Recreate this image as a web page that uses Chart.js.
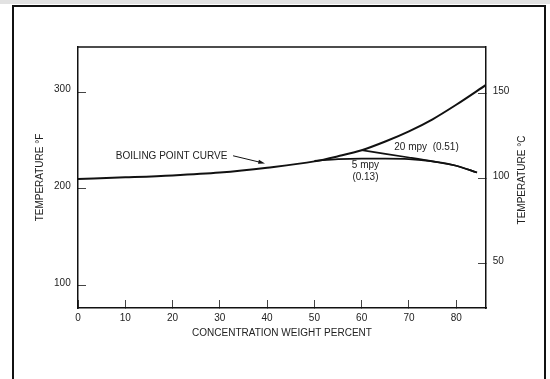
<!DOCTYPE html>
<html>
<head>
<meta charset="utf-8">
<script src="https://cdn.jsdelivr.net/npm/chart.js@4.4.0/dist/chart.umd.min.js"></script>
<style>
  html, body { margin: 0; padding: 0; background: #fff; }
  #wrap { position: relative; width: 550px; height: 379px; overflow: hidden; }
  #topStrip { position: absolute; left: 0; top: 0; width: 550px; height: 4px; background: #e2e2e2; }
  #frame { position: absolute; left: 12px; top: 5px; width: 534px; height: 400px; border: 2px solid #111; box-sizing: border-box; pointer-events: none; }
  canvas { position: absolute; left: 0; top: 0; }
</style>
</head>
<body>
<div id="wrap">
  <div id="topStrip"></div>
  <canvas id="bpChart" width="550" height="379"></canvas>
  <div id="frame"></div>
</div>
<script>
// concentration (weight %) and temperature (°F)
const boilX = [0, 10, 20, 30, 40, 50, 55, 60, 65, 70, 75, 80, 86.3];
const boilF = [210.3, 212, 214, 217, 222, 228.5, 233.8, 240, 249, 259.5, 272, 287, 307.5];
const mpy5X = [50, 55, 60, 65, 70, 75, 80, 84.4];
const mpy5F = [229, 230.8, 231.3, 231.3, 230.8, 228.5, 224, 217];
const mpy20X = [60, 65, 70, 75, 80, 84.4];
const mpy20F = [240, 236.3, 232.5, 228.5, 224, 217];

// tick labels
const xTicks = [0, 10, 20, 30, 40, 50, 60, 70, 80];
const fTicks = [100, 200, 300];
const cTicks = [50, 100, 150];

const FONT = '"Liberation Sans", Arial, Helvetica, sans-serif';
const ink = '#222';
const lineInk = '#111';

const toPts = (xs, ys) => xs.map((x, i) => ({ x: x, y: ys[i] }));

// text labels and the arrow, placed in data coordinates
const notes = [
  { text: 'BOILING POINT CURVE', x: 8.0, y: 234.3, align: 'left' },
  { text: '20 mpy  (0.51)', x: 66.9, y: 242.9, align: 'left' },
  { text: '5 mpy', x: 60.8, y: 224.0, align: 'center' },
  { text: '(0.13)', x: 60.8, y: 212.5, align: 'center' }
];
const arrow = { x1: 32.8, y1: 234.3, x2: 39.55, y2: 226.4 };

const annotate = {
  id: 'annotate',
  afterDraw(chart) {
    const { ctx, chartArea: a, scales } = chart;
    const sx = scales.x, sy = scales.y;
    ctx.save();
    // top edge of the plot box
    ctx.strokeStyle = lineInk;
    ctx.lineWidth = 1.5;
    ctx.beginPath();
    ctx.moveTo(a.left, a.top);
    ctx.lineTo(a.right, a.top);
    ctx.stroke();

    ctx.fillStyle = ink;
    ctx.font = '10px ' + FONT;
    ctx.textBaseline = 'middle';
    notes.forEach(n => {
      ctx.textAlign = n.align;
      ctx.fillText(n.text, sx.getPixelForValue(n.x), sy.getPixelForValue(n.y));
    });

    // arrow towards the boiling curve
    const ax1 = sx.getPixelForValue(arrow.x1), ay1 = sy.getPixelForValue(arrow.y1);
    const ax2 = sx.getPixelForValue(arrow.x2), ay2 = sy.getPixelForValue(arrow.y2);
    const ang = Math.atan2(ay2 - ay1, ax2 - ax1);
    ctx.lineWidth = 1;
    ctx.strokeStyle = lineInk;
    ctx.beginPath();
    ctx.moveTo(ax1, ay1);
    ctx.lineTo(ax2 - 4 * Math.cos(ang), ay2 - 4 * Math.sin(ang));
    ctx.stroke();
    ctx.fillStyle = lineInk;
    ctx.beginPath();
    ctx.moveTo(ax2, ay2);
    ctx.lineTo(ax2 - 7 * Math.cos(ang - 0.3), ay2 - 7 * Math.sin(ang - 0.3));
    ctx.lineTo(ax2 - 7 * Math.cos(ang + 0.3), ay2 - 7 * Math.sin(ang + 0.3));
    ctx.closePath();
    ctx.fill();

    // right axis title reads bottom-to-top like the left one
    ctx.fillStyle = ink;
    ctx.translate(scales.y2.left + 36, (a.top + a.bottom) / 2 + 2.5);
    ctx.rotate(-Math.PI / 2);
    ctx.textAlign = 'center';
    ctx.fillText('TEMPERATURE °C', 0, 0);
    ctx.restore();
  }
};

const tickFont = { family: FONT, size: 10 };
const gridOpts = { drawOnChartArea: false, tickLength: -8, tickColor: '#444', tickWidth: 1 };
const borderOpts = { color: lineInk, width: 1.5 };

new Chart(document.getElementById('bpChart'), {
  type: 'line',
  data: {
    datasets: [
      { label: 'Boiling point', data: toPts(boilX, boilF), borderWidth: 2 },
      { label: '5 mpy (0.13)', data: toPts(mpy5X, mpy5F), borderWidth: 1.7 },
      { label: '20 mpy (0.51)', data: toPts(mpy20X, mpy20F), borderWidth: 1.7 }
    ].map(d => Object.assign(d, {
      borderColor: lineInk,
      pointRadius: 0,
      cubicInterpolationMode: 'monotone',
      fill: false
    }))
  },
  options: {
    responsive: false,
    animation: false,
    layout: { padding: { top: 47 } },
    plugins: { legend: { display: false }, tooltip: { enabled: false } },
    scales: {
      x: {
        type: 'linear', min: 0, max: 86.3,
        afterBuildTicks: s => { s.ticks = xTicks.map(v => ({ value: v })); },
        afterFit: s => { s.height = 71; },
        grid: gridOpts,
        border: borderOpts,
        ticks: { padding: 12, color: ink, font: tickFont },
        title: { display: true, text: 'CONCENTRATION WEIGHT PERCENT', color: ink, font: tickFont, padding: { top: 0, bottom: 40 } }
      },
      y: {
        type: 'linear', position: 'left', min: 77, max: 346.7,
        afterBuildTicks: s => { s.ticks = fTicks.map(v => ({ value: v })); },
        afterFit: s => { s.width = 78; },
        grid: gridOpts,
        border: borderOpts,
        ticks: { padding: 15.3, labelOffset: -2.5, color: ink, font: tickFont },
        title: { display: true, text: 'TEMPERATURE °F', color: ink, font: tickFont, padding: { top: 34, bottom: 0 } }
      },
      y2: {
        type: 'linear', position: 'right', display: true, min: 24.05, max: 177.3,
        afterBuildTicks: s => { s.ticks = cTicks.map(v => ({ value: v })); },
        afterFit: s => { s.width = 64; },
        grid: gridOpts,
        border: borderOpts,
        ticks: { padding: 14.7, labelOffset: -2.5, color: ink, font: tickFont }
      }
    }
  },
  plugins: [annotate]
});
</script>
</body>
</html>
